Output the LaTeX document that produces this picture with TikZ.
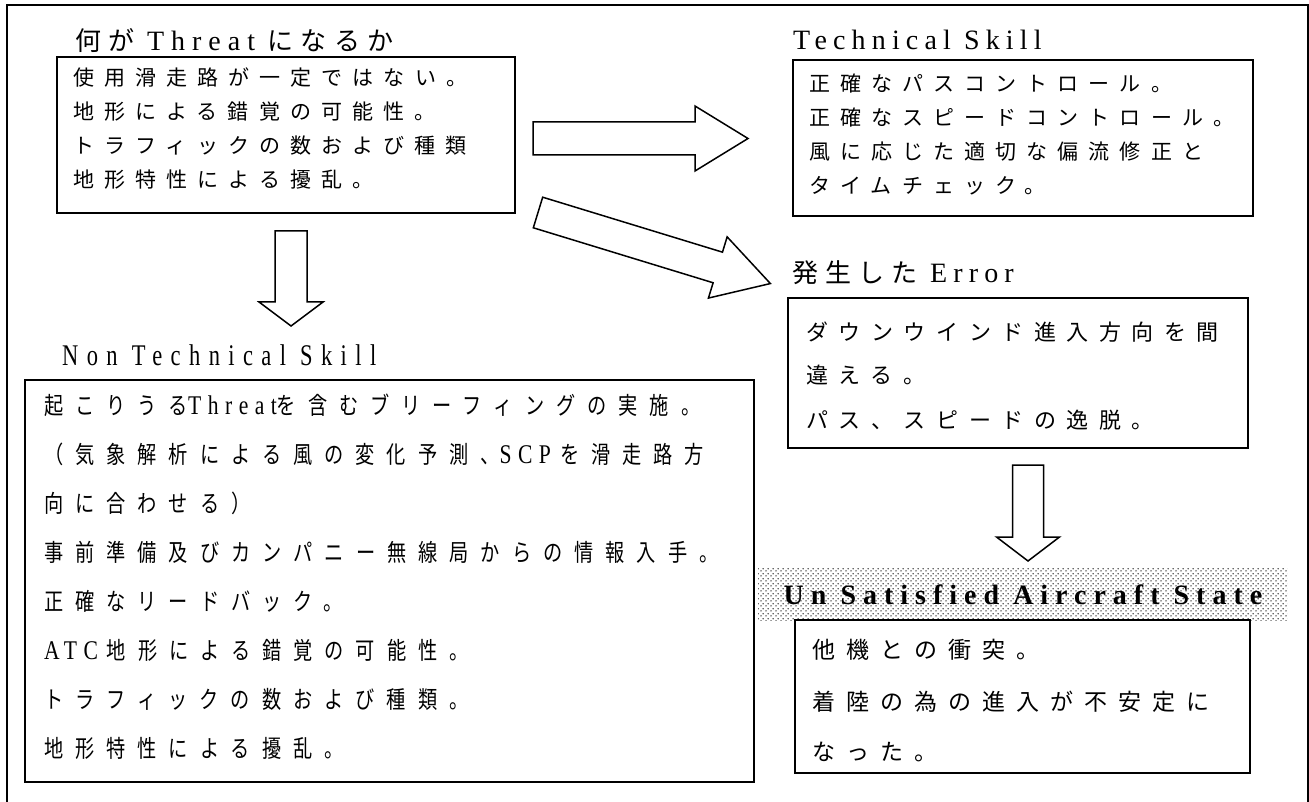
\documentclass[tikz,border=0pt]{standalone}
\usepackage{fontspec}
\usetikzlibrary{patterns}
\newfontfamily\jp[LetterSpace=48]{Noto Sans CJK JP}
\newfontfamily\jpt[LetterSpace=27]{Noto Sans CJK JP}
\newfontfamily\jpn[LetterSpace=50,FakeStretch=0.8]{Noto Sans CJK JP}
\newfontfamily\lt[LetterSpace=25]{Liberation Serif}
\newfontfamily\lts[LetterSpace=22]{Liberation Serif}
\newfontfamily\ltn[LetterSpace=28,FakeStretch=0.75]{Liberation Serif}
\newfontfamily\ltm[LetterSpace=24,FakeStretch=0.8]{Liberation Serif}
\newcommand\fs[1]{\fontsize{#1}{#1}\selectfont}
\pgfdeclarepatternformonly{halftone}{\pgfqpoint{0pt}{0pt}}{\pgfqpoint{5pt}{5pt}}{\pgfqpoint{5pt}{5pt}}{%
  \pgfpathcircle{\pgfqpoint{1.25pt}{1.25pt}}{0.9pt}%
  \pgfpathcircle{\pgfqpoint{3.75pt}{3.75pt}}{0.9pt}%
  \pgfusepath{fill}}
\newcommand\blockarr[7]{% x,y,angle,shaft length,half shaft,half head,head length
  \begin{scope}[shift={(#1,#2)},rotate=#3]
    \draw[barrow] (0,-#5) -- (#4,-#5) -- (#4,-#6) -- ({#4+#7},0) -- (#4,#6) -- (#4,#5) -- (0,#5) -- cycle;
  \end{scope}}
\tikzset{
  boxline/.style={draw=black, line width=1.6pt},
  frameline/.style={draw=black, line width=1.5pt},
  barrow/.style={draw=black, line width=1.5pt, fill=white, line join=miter},
  txt/.style={anchor=base west, inner sep=0pt, text=black},
}
\begin{document}
\begin{tikzpicture}[x=1pt,y=-1pt]
\useasboundingbox (0,0) rectangle (1309,802);
\fill[white] (0,0) rectangle (1309,802);
% outer frame
\draw[frameline] (7,802) -- (7,5) -- (1308,5) -- (1308,802);

% ---- Threat box
\node[txt] (t1) at (75,51) {\fs{26}\jpt 何が {\fs{28}\lt Threat} になるか};
\draw[boxline] (57,57) rectangle (515,213);
\node[txt] (b1a) at (73,86)  {\fs{21}\jp 使用滑走路が一定ではない。};
\node[txt] (b1b) at (73,120) {\fs{21}\jp 地形による錯覚の可能性。};
\node[txt] (b1c) at (73,154) {\fs{21}\jp トラフィックの数および種類};
\node[txt] (b1d) at (73,188) {\fs{21}\jp 地形特性による擾乱。};

% ---- Technical Skill
\node[txt] (t2) at (793,50) {\fs{28}\lts Technical Skill};
\draw[boxline] (793,60) rectangle (1253,216);
\node[txt] (b2a) at (809,92)  {\fs{21}\jp 正確なパスコントロール。};
\node[txt] (b2b) at (809,126) {\fs{21}\jp 正確なスピードコントロール。};
\node[txt] (b2c) at (809,160) {\fs{21}\jp 風に応じた適切な偏流修正と};
\node[txt] (b2d) at (809,194) {\fs{21}\jp タイムチェック。};

% ---- Error
\node[txt] (t3) at (792,283) {\fs{26}\jpt 発生した {\fs{28}\lts Error}};
\draw[boxline] (788,298) rectangle (1248,448);
\node[txt] (b3a) at (806,340) {\fs{22}\jp ダウンウインド進入方向を間};
\node[txt] (b3b) at (806,383) {\fs{22}\jp 違える。};
\node[txt] (b3c) at (806,428) {\fs{22}\jp パス、スピードの逸脱。};

% ---- Un Satisfied Aircraft State
\fill[pattern=halftone, pattern color=black!80] (758,568) rectangle (1287,620);
\node[anchor=base, inner sep=0pt] (t4) at (1023,604) {\fs{28}\lt\bfseries Un Satisfied Aircraft State};
\draw[boxline] (795,620) rectangle (1250,773);
\node[txt] (b4a) at (812,658) {\fs{23}\jp 他機との衝突。};
\node[txt] (b4b) at (812,710) {\fs{23}\jp 着陸の為の進入が不安定に};
\node[txt] (b4c) at (812,760) {\fs{23}\jp なった。};

% ---- Non Technical Skill
\node[txt] (t5) at (62,365) {\fs{30}\ltn Non Technical Skill};
\draw[boxline] (25,380) rectangle (754,782);
\node[txt] (b5a) at (44,414) {\fs{24}\jpn 起こりうる{\fs{27}\ltm Threat}を含むブリーフィングの実施。};
\node[txt] (b5b) at (44,463) {\fs{24}\jpn （気象解析による風の変化予測、{\fs{27}\ltm SCP}\hspace{9pt}を滑走路方};
\node[txt] (b5c) at (44,512) {\fs{24}\jpn 向に合わせる）};
\node[txt] (b5d) at (44,561) {\fs{24}\jpn 事前準備及びカンパニー無線局からの情報入手。};
\node[txt] (b5e) at (44,610) {\fs{24}\jpn 正確なリードバック。};
\node[txt] (b5f) at (44,659) {\fs{24}\jpn {\fs{27}\ltm ATC}\hspace{9pt}地形による錯覚の可能性。};
\node[txt] (b5g) at (44,708) {\fs{24}\jpn トラフィックの数および種類。};
\node[txt] (b5h) at (44,757) {\fs{24}\jpn 地形特性による擾乱。};

% ---- block arrows
\blockarr{533}{138.5}{0}{162}{16.5}{32.5}{53}
\blockarr{538}{212.5}{-17}{188}{16}{32}{55}
\blockarr{291}{231}{-90}{71}{16}{32}{24}
\blockarr{1028}{465}{-90}{72}{15.5}{31.5}{24}
\end{tikzpicture}
\end{document}
